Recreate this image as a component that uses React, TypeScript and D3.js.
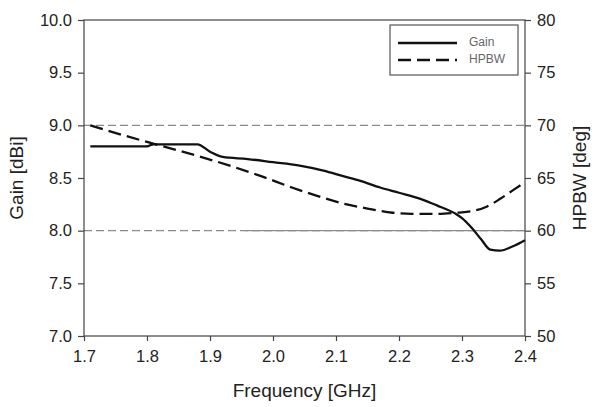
import React, { useEffect, useRef } from 'react';
import * as d3 from 'd3';

// Gain curve (left axis)
const gainFreq = [1.71, 1.8, 1.81, 1.88, 1.9, 1.92, 1.96, 2.0, 2.04, 2.08, 2.11, 2.14, 2.17, 2.2, 2.235, 2.26, 2.29, 2.3, 2.315, 2.33, 2.345, 2.36, 2.38, 2.4];
const gainValues = [8.8, 8.8, 8.82, 8.82, 8.75, 8.7, 8.68, 8.65, 8.62, 8.57, 8.52, 8.47, 8.41, 8.36, 8.3, 8.24, 8.16, 8.12, 8.03, 7.92, 7.82, 7.81, 7.85, 7.91];

// HPBW curve (right axis)
const hpbwFreq = [1.71, 1.76, 1.82, 1.88, 1.93, 1.98, 2.03, 2.07, 2.11, 2.15, 2.19, 2.22, 2.26, 2.29, 2.31, 2.34, 2.36, 2.38, 2.4];
const hpbwValues = [70.0, 69.1, 68.1, 67.1, 66.2, 65.2, 64.1, 63.3, 62.6, 62.1, 61.7, 61.6, 61.6, 61.7, 61.8, 62.3, 63.0, 63.8, 64.6];

const freqTicks = [1.7, 1.8, 1.9, 2.0, 2.1, 2.2, 2.3, 2.4];
const gainTicks = [7.0, 7.5, 8.0, 8.5, 9.0, 9.5, 10.0];
const hpbwTicks = [50, 55, 60, 65, 70, 75, 80];
const refLines = [9.0, 8.0];

const FONT = '"Liberation Sans", Arial, sans-serif';

const App = () => {
  const ref = useRef<SVGSVGElement | null>(null);

  useEffect(() => {
    const svg = d3.select(ref.current);
    svg.selectAll('*').remove();

    const left = 84, right = 525, top = 20, bottom = 336;
    const x = d3.scaleLinear().domain([1.7, 2.4]).range([left, right]);
    const yG = d3.scaleLinear().domain([7, 10]).range([bottom, top]);
    const yH = d3.scaleLinear().domain([50, 80]).range([bottom, top]);

    // reference lines at 9.0 and 8.0 dBi
    svg.selectAll('.ref')
      .data(refLines)
      .enter()
      .append('line')
      .attr('x1', left)
      .attr('x2', right)
      .attr('y1', d => yG(d))
      .attr('y2', d => yG(d))
      .attr('stroke', '#8a8a8a')
      .attr('stroke-width', 1.2)
      .attr('stroke-dasharray', '8,4');
    // the 8.0 line turns solid on the right part
    svg.append('line')
      .attr('x1', x(1.955))
      .attr('x2', right)
      .attr('y1', yG(8.0))
      .attr('y2', yG(8.0))
      .attr('stroke', '#8a8a8a')
      .attr('stroke-width', 1.2);

    // frame
    svg.append('rect')
      .attr('x', left)
      .attr('y', top)
      .attr('width', right - left)
      .attr('height', bottom - top)
      .attr('fill', 'none')
      .attr('stroke', '#444')
      .attr('stroke-width', 1.2);

    const styleAxis = (g: any) => {
      g.select('.domain').remove();
      g.selectAll('line').attr('stroke', '#444').attr('stroke-width', 1.2);
      g.selectAll('text').attr('font-family', FONT).attr('font-size', 16.5).attr('fill', '#222');
    };

    svg.append('g')
      .attr('transform', `translate(0,${bottom})`)
      .call(d3.axisBottom(x).tickValues(freqTicks).tickSize(5).tickPadding(9).tickFormat(d3.format('.1f')))
      .call(styleAxis);

    svg.append('g')
      .attr('transform', `translate(${left},0)`)
      .call(d3.axisLeft(yG).tickValues(gainTicks).tickSize(6).tickPadding(6).tickFormat(d3.format('.1f')))
      .call(styleAxis);

    svg.append('g')
      .attr('transform', `translate(${right},0)`)
      .call(d3.axisRight(yH).tickValues(hpbwTicks).tickSize(6).tickPadding(6).tickFormat(d3.format('d')))
      .call(styleAxis);

    const gainLine = d3.line<number>()
      .x((_, i) => x(gainFreq[i]))
      .y(d => yG(d))
      .curve(d3.curveMonotoneX);
    const hpbwLine = d3.line<number>()
      .x((_, i) => x(hpbwFreq[i]))
      .y(d => yH(d))
      .curve(d3.curveMonotoneX);

    svg.append('path')
      .datum(gainValues)
      .attr('d', gainLine)
      .attr('fill', 'none')
      .attr('stroke', '#111')
      .attr('stroke-width', 2.3);

    svg.append('path')
      .datum(hpbwValues)
      .attr('d', hpbwLine)
      .attr('fill', 'none')
      .attr('stroke', '#111')
      .attr('stroke-width', 2.3)
      .attr('stroke-dasharray', '13,6');

    // axis titles
    svg.append('text')
      .attr('transform', `translate(18,${(top + bottom) / 2}) rotate(-90)`)
      .attr('text-anchor', 'middle')
      .attr('dominant-baseline', 'middle')
      .attr('font-family', FONT)
      .attr('font-size', 19)
      .attr('fill', '#222')
      .text('Gain [dBi]');

    svg.append('text')
      .attr('transform', `translate(581,${(top + bottom) / 2}) rotate(-90)`)
      .attr('text-anchor', 'middle')
      .attr('dominant-baseline', 'middle')
      .attr('font-family', FONT)
      .attr('font-size', 19)
      .attr('fill', '#222')
      .text('HPBW [deg]');

    svg.append('text')
      .attr('x', (left + right) / 2)
      .attr('y', 397)
      .attr('text-anchor', 'middle')
      .attr('font-family', FONT)
      .attr('font-size', 19)
      .attr('fill', '#222')
      .text('Frequency [GHz]');

    // legend
    const legend = svg.append('g');
    legend.append('rect')
      .attr('x', 390)
      .attr('y', 25)
      .attr('width', 128)
      .attr('height', 50)
      .attr('fill', '#fff')
      .attr('stroke', '#555')
      .attr('stroke-width', 1.2);
    const items = [
      { label: 'Gain', dash: null, y: 43 },
      { label: 'HPBW', dash: '13,6', y: 60 },
    ];
    items.forEach(it => {
      legend.append('line')
        .attr('x1', 398)
        .attr('x2', 457)
        .attr('y1', it.y)
        .attr('y2', it.y)
        .attr('stroke', '#111')
        .attr('stroke-width', 2.3)
        .attr('stroke-dasharray', it.dash);
      legend.append('text')
        .attr('x', 469)
        .attr('y', it.y)
        .attr('dominant-baseline', 'middle')
        .attr('font-family', FONT)
        .attr('font-size', 12)
        .attr('fill', '#666')
        .text(it.label);
    });
  }, []);

  return (
    <svg
      ref={ref}
      width={595}
      height={407}
      style={{ position: 'absolute', left: 0, top: 0, background: '#fff' }}
    />
  );
};

export default App;
